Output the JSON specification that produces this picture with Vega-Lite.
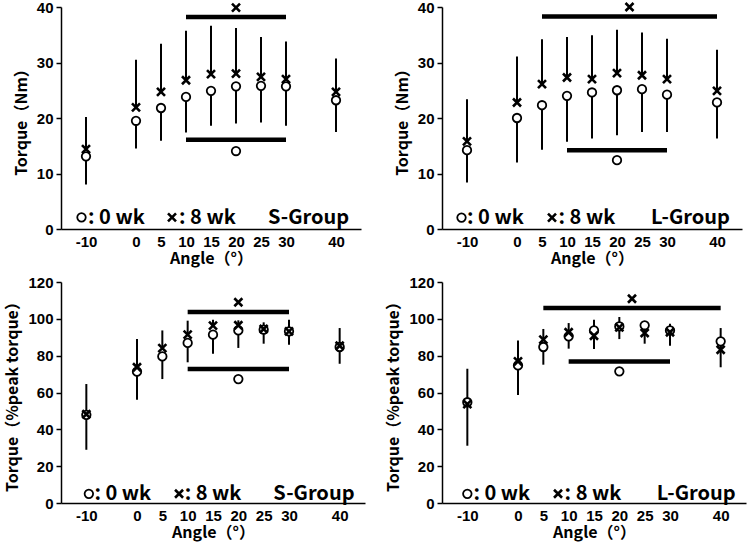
{
  "$schema": "https://vega.github.io/schema/vega-lite/v6.json",
  "background": "white",
  "padding": {"left": 4, "top": -3, "right": 2, "bottom": 2},
  "columns": 2,
  "spacing": {"column": 20, "row": 9},
  "config": {
    "view": {"stroke": null},
    "axis": {
      "domainColor": "black", "domainWidth": 1.5, "labelColor": "black",
      "labelFont": "'Liberation Sans Narrow', 'Liberation Sans', sans-serif", "labelFontSize": 15, "labelFontWeight": "bold",
      "titleColor": "black", "titleFont": "Noto Sans CJK JP", "titleFontSize": 16, "titleFontWeight": "bold",
      "grid": false, "tickColor": "black", "tickWidth": 1.5,
      "labelExpr": "'' + datum.value"
    },
    "axisX": {"ticks": false, "labelPadding": 5, "titlePadding": 1, "labelFlush": false, "labelOverlap": false},
    "axisY": {"tickSize": 5, "labelPadding": 3, "titlePadding": 7}
  },
  "datasets": {
    "pts": [
      {"panel": "P1", "angle": -10, "week": 0, "value": 13.1, "bound": 8.0},
      {"panel": "P1", "angle": 0, "week": 0, "value": 19.5, "bound": 14.5},
      {"panel": "P1", "angle": 5, "week": 0, "value": 21.8, "bound": 15.9},
      {"panel": "P1", "angle": 10, "week": 0, "value": 23.8, "bound": 17.4},
      {"panel": "P1", "angle": 15, "week": 0, "value": 24.9, "bound": 18.6},
      {"panel": "P1", "angle": 20, "week": 0, "value": 25.7, "bound": 19.0},
      {"panel": "P1", "angle": 25, "week": 0, "value": 25.8, "bound": 19.2},
      {"panel": "P1", "angle": 30, "week": 0, "value": 25.7, "bound": 18.6},
      {"panel": "P1", "angle": 40, "week": 0, "value": 23.2, "bound": 17.5},
      {"panel": "P1", "angle": -10, "week": 8, "value": 14.4, "bound": 20.2},
      {"panel": "P1", "angle": 0, "week": 8, "value": 21.9, "bound": 30.5},
      {"panel": "P1", "angle": 5, "week": 8, "value": 24.7, "bound": 33.4},
      {"panel": "P1", "angle": 10, "week": 8, "value": 26.8, "bound": 35.7},
      {"panel": "P1", "angle": 15, "week": 8, "value": 27.9, "bound": 36.6},
      {"panel": "P1", "angle": 20, "week": 8, "value": 28.0, "bound": 36.2},
      {"panel": "P1", "angle": 25, "week": 8, "value": 27.4, "bound": 34.6},
      {"panel": "P1", "angle": 30, "week": 8, "value": 27.0, "bound": 33.8},
      {"panel": "P1", "angle": 40, "week": 8, "value": 24.7, "bound": 30.7},

      {"panel": "P2", "angle": -10, "week": 0, "value": 14.2, "bound": 8.4},
      {"panel": "P2", "angle": 0, "week": 0, "value": 20.0, "bound": 12.0},
      {"panel": "P2", "angle": 5, "week": 0, "value": 22.3, "bound": 14.3},
      {"panel": "P2", "angle": 10, "week": 0, "value": 24.0, "bound": 15.7},
      {"panel": "P2", "angle": 15, "week": 0, "value": 24.6, "bound": 16.3},
      {"panel": "P2", "angle": 20, "week": 0, "value": 25.0, "bound": 16.9},
      {"panel": "P2", "angle": 25, "week": 0, "value": 25.2, "bound": 17.5},
      {"panel": "P2", "angle": 30, "week": 0, "value": 24.2, "bound": 17.5},
      {"panel": "P2", "angle": 40, "week": 0, "value": 22.8, "bound": 16.3},
      {"panel": "P2", "angle": -10, "week": 8, "value": 15.8, "bound": 23.4},
      {"panel": "P2", "angle": 0, "week": 8, "value": 22.8, "bound": 31.1},
      {"panel": "P2", "angle": 5, "week": 8, "value": 26.1, "bound": 34.2},
      {"panel": "P2", "angle": 10, "week": 8, "value": 27.3, "bound": 34.6},
      {"panel": "P2", "angle": 15, "week": 8, "value": 27.0, "bound": 34.9},
      {"panel": "P2", "angle": 20, "week": 8, "value": 28.1, "bound": 35.9},
      {"panel": "P2", "angle": 25, "week": 8, "value": 27.7, "bound": 35.4},
      {"panel": "P2", "angle": 30, "week": 8, "value": 27.0, "bound": 34.3},
      {"panel": "P2", "angle": 40, "week": 8, "value": 24.9, "bound": 32.3},

      {"panel": "P3", "angle": -10, "week": 0, "value": 47.9, "bound": 28.9},
      {"panel": "P3", "angle": 0, "week": 0, "value": 71.3, "bound": 56.1},
      {"panel": "P3", "angle": 5, "week": 0, "value": 79.6, "bound": 67.3},
      {"panel": "P3", "angle": 10, "week": 0, "value": 86.9, "bound": 76.4},
      {"panel": "P3", "angle": 15, "week": 0, "value": 91.4, "bound": 81.1},
      {"panel": "P3", "angle": 20, "week": 0, "value": 93.7, "bound": 84.2},
      {"panel": "P3", "angle": 25, "week": 0, "value": 94.1, "bound": 86.5},
      {"panel": "P3", "angle": 30, "week": 0, "value": 93.2, "bound": 85.9},
      {"panel": "P3", "angle": 40, "week": 0, "value": 84.7, "bound": 75.6},
      {"panel": "P3", "angle": -10, "week": 8, "value": 48.2, "bound": 64.6},
      {"panel": "P3", "angle": 0, "week": 8, "value": 73.7, "bound": 89.0},
      {"panel": "P3", "angle": 5, "week": 8, "value": 84.1, "bound": 93.7},
      {"panel": "P3", "angle": 10, "week": 8, "value": 91.4, "bound": 99.0},
      {"panel": "P3", "angle": 15, "week": 8, "value": 96.3, "bound": 99.5},
      {"panel": "P3", "angle": 20, "week": 8, "value": 96.5, "bound": 99.2},
      {"panel": "P3", "angle": 25, "week": 8, "value": 94.5, "bound": 98.1},
      {"panel": "P3", "angle": 30, "week": 8, "value": 93.2, "bound": 99.5},
      {"panel": "P3", "angle": 40, "week": 8, "value": 85.4, "bound": 95.0},

      {"panel": "P4", "angle": -10, "week": 0, "value": 54.7, "bound": 31.1},
      {"panel": "P4", "angle": 0, "week": 0, "value": 74.7, "bound": 58.6},
      {"panel": "P4", "angle": 5, "week": 0, "value": 84.7, "bound": 75.1},
      {"panel": "P4", "angle": 10, "week": 0, "value": 90.5, "bound": 83.8},
      {"panel": "P4", "angle": 15, "week": 0, "value": 93.7, "bound": 83.6},
      {"panel": "P4", "angle": 20, "week": 0, "value": 95.9, "bound": 89.0},
      {"panel": "P4", "angle": 25, "week": 0, "value": 96.5, "bound": 86.5},
      {"panel": "P4", "angle": 30, "week": 0, "value": 93.7, "bound": 85.4},
      {"panel": "P4", "angle": 40, "week": 0, "value": 87.8, "bound": 73.7},
      {"panel": "P4", "angle": -10, "week": 8, "value": 53.7, "bound": 72.9},
      {"panel": "P4", "angle": 0, "week": 8, "value": 76.9, "bound": 88.3},
      {"panel": "P4", "angle": 5, "week": 8, "value": 88.7, "bound": 94.5},
      {"panel": "P4", "angle": 10, "week": 8, "value": 92.7, "bound": 97.7},
      {"panel": "P4", "angle": 15, "week": 8, "value": 90.8, "bound": 99.5},
      {"panel": "P4", "angle": 20, "week": 8, "value": 95.4, "bound": 101.0},
      {"panel": "P4", "angle": 25, "week": 8, "value": 92.3, "bound": 97.5},
      {"panel": "P4", "angle": 30, "week": 8, "value": 92.7, "bound": 97.3},
      {"panel": "P4", "angle": 40, "week": 8, "value": 83.2, "bound": 95.0}
    ],
    "sig": [
      {"panel": "P1", "angle": 10, "angle2": 30, "value": 38.2},
      {"panel": "P1", "angle": 10, "angle2": 30, "value": 16.1},
      {"panel": "P2", "angle": 5, "angle2": 40, "value": 38.3},
      {"panel": "P2", "angle": 10, "angle2": 30, "value": 14.2},
      {"panel": "P3", "angle": 10, "angle2": 30, "value": 103.7},
      {"panel": "P3", "angle": 10, "angle2": 30, "value": 72.7},
      {"panel": "P4", "angle": 5, "angle2": 40, "value": 105.9},
      {"panel": "P4", "angle": 10, "angle2": 30, "value": 76.9}
    ],
    "marks": [
      {"panel": "P1", "kind": "cross", "angle": 20, "value": 39.9},
      {"panel": "P1", "kind": "circle", "angle": 20, "value": 14.05},
      {"panel": "P1", "kind": "circle", "angle": -10.9, "value": 2.1},
      {"panel": "P1", "kind": "cross", "angle": 7.2, "value": 2.1},
      {"panel": "P2", "kind": "cross", "angle": 22.5, "value": 40.0},
      {"panel": "P2", "kind": "circle", "angle": 20, "value": 12.4},
      {"panel": "P2", "kind": "circle", "angle": -11.1, "value": 2.05},
      {"panel": "P2", "kind": "cross", "angle": 7.0, "value": 2.05},
      {"panel": "P3", "kind": "cross", "angle": 20, "value": 109.0},
      {"panel": "P3", "kind": "circle", "angle": 20, "value": 67.3},
      {"panel": "P3", "kind": "circle", "angle": -9.5, "value": 5.0},
      {"panel": "P3", "kind": "cross", "angle": 8.3, "value": 5.0},
      {"panel": "P4", "kind": "cross", "angle": 22.5, "value": 110.9},
      {"panel": "P4", "kind": "circle", "angle": 20, "value": 71.5},
      {"panel": "P4", "kind": "circle", "angle": -10.0, "value": 5.0},
      {"panel": "P4", "kind": "cross", "angle": 7.9, "value": 5.0}
    ],
    "labels": [
      {"panel": "P1", "angle": -9.6, "value": 0.9, "text": ": 0 wk"},
      {"panel": "P1", "angle": 8.6, "value": 0.9, "text": ": 8 wk"},
      {"panel": "P1", "angle": 26.4, "value": 0.9, "text": "S-Group"},
      {"panel": "P2", "angle": -10.0, "value": 0.85, "text": ": 0 wk"},
      {"panel": "P2", "angle": 8.3, "value": 0.85, "text": ": 8 wk"},
      {"panel": "P2", "angle": 26.8, "value": 0.85, "text": "L-Group"},
      {"panel": "P3", "angle": -8.4, "value": 1.8, "text": ": 0 wk"},
      {"panel": "P3", "angle": 9.4, "value": 1.8, "text": ": 8 wk"},
      {"panel": "P3", "angle": 26.9, "value": 1.8, "text": "S-Group"},
      {"panel": "P4", "angle": -8.8, "value": 1.8, "text": ": 0 wk"},
      {"panel": "P4", "angle": 9.2, "value": 1.8, "text": ": 8 wk"},
      {"panel": "P4", "angle": 27.4, "value": 1.8, "text": "L-Group"}
    ]
  },
  "concat": [
    {
      "width": 300, "height": 222,
      "encoding": {
        "x": {"field": "angle", "type": "quantitative", "scale": {"domain": [-15, 45], "nice": false, "zero": false}, "axis": {"values": [-10, 0, 5, 10, 15, 20, 25, 30, 40], "title": "Angle（°）"}},
        "y": {"field": "value", "type": "quantitative", "scale": {"domain": [0, 40], "nice": false}, "axis": {"values": [0, 10, 20, 30, 40], "title": "Torque（Nm）"}}
      },
      "layer": [
        {"data": {"name": "pts"}, "transform": [{"filter": "datum.panel === 'P1'"}], "mark": {"type": "rule", "strokeWidth": 2, "color": "black"}, "encoding": {"y2": {"field": "bound"}}},
        {"data": {"name": "sig"}, "transform": [{"filter": "datum.panel === 'P1'"}], "mark": {"type": "rule", "strokeWidth": 4.5, "color": "black"}, "encoding": {"x2": {"field": "angle2"}}},
        {"data": {"name": "pts"}, "transform": [{"filter": "datum.panel === 'P1' && datum.week === 0"}], "mark": {"type": "point", "shape": "circle", "filled": true, "fill": "white", "stroke": "black", "strokeWidth": 1.8, "size": 72, "opacity": 1}},
        {"data": {"name": "marks"}, "transform": [{"filter": "datum.panel === 'P1' && datum.kind === 'circle'"}], "mark": {"type": "point", "shape": "circle", "filled": true, "fill": "white", "stroke": "black", "strokeWidth": 1.8, "size": 72, "opacity": 1}},
        {"data": {"name": "pts"}, "transform": [{"filter": "datum.panel === 'P1' && datum.week === 8"}], "mark": {"type": "point", "shape": "M-1,-1L1,1M1,-1L-1,1", "filled": false, "stroke": "black", "strokeWidth": 2.6, "size": 64, "opacity": 1}},
        {"data": {"name": "marks"}, "transform": [{"filter": "datum.panel === 'P1' && datum.kind === 'cross'"}], "mark": {"type": "point", "shape": "M-1,-1L1,1M1,-1L-1,1", "filled": false, "stroke": "black", "strokeWidth": 2.6, "size": 64, "opacity": 1}},
        {"data": {"name": "labels"}, "transform": [{"filter": "datum.panel === 'P1'"}], "mark": {"type": "text", "align": "left", "baseline": "alphabetic", "font": "Noto Sans CJK JP", "fontSize": 20, "fontWeight": "bold", "color": "black"}, "encoding": {"text": {"field": "text"}}}
      ]
    },
    {
      "width": 300, "height": 222,
      "encoding": {
        "x": {"field": "angle", "type": "quantitative", "scale": {"domain": [-15, 45], "nice": false, "zero": false}, "axis": {"values": [-10, 0, 5, 10, 15, 20, 25, 30, 40], "title": "Angle（°）"}},
        "y": {"field": "value", "type": "quantitative", "scale": {"domain": [0, 40], "nice": false}, "axis": {"values": [0, 10, 20, 30, 40], "title": "Torque（Nm）"}}
      },
      "layer": [
        {"data": {"name": "pts"}, "transform": [{"filter": "datum.panel === 'P2'"}], "mark": {"type": "rule", "strokeWidth": 2, "color": "black"}, "encoding": {"y2": {"field": "bound"}}},
        {"data": {"name": "sig"}, "transform": [{"filter": "datum.panel === 'P2'"}], "mark": {"type": "rule", "strokeWidth": 4.5, "color": "black"}, "encoding": {"x2": {"field": "angle2"}}},
        {"data": {"name": "pts"}, "transform": [{"filter": "datum.panel === 'P2' && datum.week === 0"}], "mark": {"type": "point", "shape": "circle", "filled": true, "fill": "white", "stroke": "black", "strokeWidth": 1.8, "size": 72, "opacity": 1}},
        {"data": {"name": "marks"}, "transform": [{"filter": "datum.panel === 'P2' && datum.kind === 'circle'"}], "mark": {"type": "point", "shape": "circle", "filled": true, "fill": "white", "stroke": "black", "strokeWidth": 1.8, "size": 72, "opacity": 1}},
        {"data": {"name": "pts"}, "transform": [{"filter": "datum.panel === 'P2' && datum.week === 8"}], "mark": {"type": "point", "shape": "M-1,-1L1,1M1,-1L-1,1", "filled": false, "stroke": "black", "strokeWidth": 2.6, "size": 64, "opacity": 1}},
        {"data": {"name": "marks"}, "transform": [{"filter": "datum.panel === 'P2' && datum.kind === 'cross'"}], "mark": {"type": "point", "shape": "M-1,-1L1,1M1,-1L-1,1", "filled": false, "stroke": "black", "strokeWidth": 2.6, "size": 64, "opacity": 1}},
        {"data": {"name": "labels"}, "transform": [{"filter": "datum.panel === 'P2'"}], "mark": {"type": "text", "align": "left", "baseline": "alphabetic", "font": "Noto Sans CJK JP", "fontSize": 20, "fontWeight": "bold", "color": "black"}, "encoding": {"text": {"field": "text"}}}
      ]
    },
    {
      "width": 304, "height": 221,
      "encoding": {
        "x": {"field": "angle", "type": "quantitative", "scale": {"domain": [-15, 45], "nice": false, "zero": false}, "axis": {"values": [-10, 0, 5, 10, 15, 20, 25, 30, 40], "title": "Angle（°）"}},
        "y": {"field": "value", "type": "quantitative", "scale": {"domain": [0, 120], "nice": false}, "axis": {"values": [0, 20, 40, 60, 80, 100, 120], "title": "Torque（%peak torque）"}}
      },
      "layer": [
        {"data": {"name": "pts"}, "transform": [{"filter": "datum.panel === 'P3'"}], "mark": {"type": "rule", "strokeWidth": 2, "color": "black"}, "encoding": {"y2": {"field": "bound"}}},
        {"data": {"name": "sig"}, "transform": [{"filter": "datum.panel === 'P3'"}], "mark": {"type": "rule", "strokeWidth": 4.5, "color": "black"}, "encoding": {"x2": {"field": "angle2"}}},
        {"data": {"name": "pts"}, "transform": [{"filter": "datum.panel === 'P3' && datum.week === 0"}], "mark": {"type": "point", "shape": "circle", "filled": true, "fill": "white", "stroke": "black", "strokeWidth": 1.8, "size": 72, "opacity": 1}},
        {"data": {"name": "marks"}, "transform": [{"filter": "datum.panel === 'P3' && datum.kind === 'circle'"}], "mark": {"type": "point", "shape": "circle", "filled": true, "fill": "white", "stroke": "black", "strokeWidth": 1.8, "size": 72, "opacity": 1}},
        {"data": {"name": "pts"}, "transform": [{"filter": "datum.panel === 'P3' && datum.week === 8"}], "mark": {"type": "point", "shape": "M-1,-1L1,1M1,-1L-1,1", "filled": false, "stroke": "black", "strokeWidth": 2.6, "size": 64, "opacity": 1}},
        {"data": {"name": "marks"}, "transform": [{"filter": "datum.panel === 'P3' && datum.kind === 'cross'"}], "mark": {"type": "point", "shape": "M-1,-1L1,1M1,-1L-1,1", "filled": false, "stroke": "black", "strokeWidth": 2.6, "size": 64, "opacity": 1}},
        {"data": {"name": "labels"}, "transform": [{"filter": "datum.panel === 'P3'"}], "mark": {"type": "text", "align": "left", "baseline": "alphabetic", "font": "Noto Sans CJK JP", "fontSize": 20, "fontWeight": "bold", "color": "black"}, "encoding": {"text": {"field": "text"}}}
      ]
    },
    {
      "width": 304, "height": 221,
      "encoding": {
        "x": {"field": "angle", "type": "quantitative", "scale": {"domain": [-15, 45], "nice": false, "zero": false}, "axis": {"values": [-10, 0, 5, 10, 15, 20, 25, 30, 40], "title": "Angle（°）"}},
        "y": {"field": "value", "type": "quantitative", "scale": {"domain": [0, 120], "nice": false}, "axis": {"values": [0, 20, 40, 60, 80, 100, 120], "title": "Torque（%peak torque）"}}
      },
      "layer": [
        {"data": {"name": "pts"}, "transform": [{"filter": "datum.panel === 'P4'"}], "mark": {"type": "rule", "strokeWidth": 2, "color": "black"}, "encoding": {"y2": {"field": "bound"}}},
        {"data": {"name": "sig"}, "transform": [{"filter": "datum.panel === 'P4'"}], "mark": {"type": "rule", "strokeWidth": 4.5, "color": "black"}, "encoding": {"x2": {"field": "angle2"}}},
        {"data": {"name": "pts"}, "transform": [{"filter": "datum.panel === 'P4' && datum.week === 0"}], "mark": {"type": "point", "shape": "circle", "filled": true, "fill": "white", "stroke": "black", "strokeWidth": 1.8, "size": 72, "opacity": 1}},
        {"data": {"name": "marks"}, "transform": [{"filter": "datum.panel === 'P4' && datum.kind === 'circle'"}], "mark": {"type": "point", "shape": "circle", "filled": true, "fill": "white", "stroke": "black", "strokeWidth": 1.8, "size": 72, "opacity": 1}},
        {"data": {"name": "pts"}, "transform": [{"filter": "datum.panel === 'P4' && datum.week === 8"}], "mark": {"type": "point", "shape": "M-1,-1L1,1M1,-1L-1,1", "filled": false, "stroke": "black", "strokeWidth": 2.6, "size": 64, "opacity": 1}},
        {"data": {"name": "marks"}, "transform": [{"filter": "datum.panel === 'P4' && datum.kind === 'cross'"}], "mark": {"type": "point", "shape": "M-1,-1L1,1M1,-1L-1,1", "filled": false, "stroke": "black", "strokeWidth": 2.6, "size": 64, "opacity": 1}},
        {"data": {"name": "labels"}, "transform": [{"filter": "datum.panel === 'P4'"}], "mark": {"type": "text", "align": "left", "baseline": "alphabetic", "font": "Noto Sans CJK JP", "fontSize": 20, "fontWeight": "bold", "color": "black"}, "encoding": {"text": {"field": "text"}}}
      ]
    }
  ]
}
